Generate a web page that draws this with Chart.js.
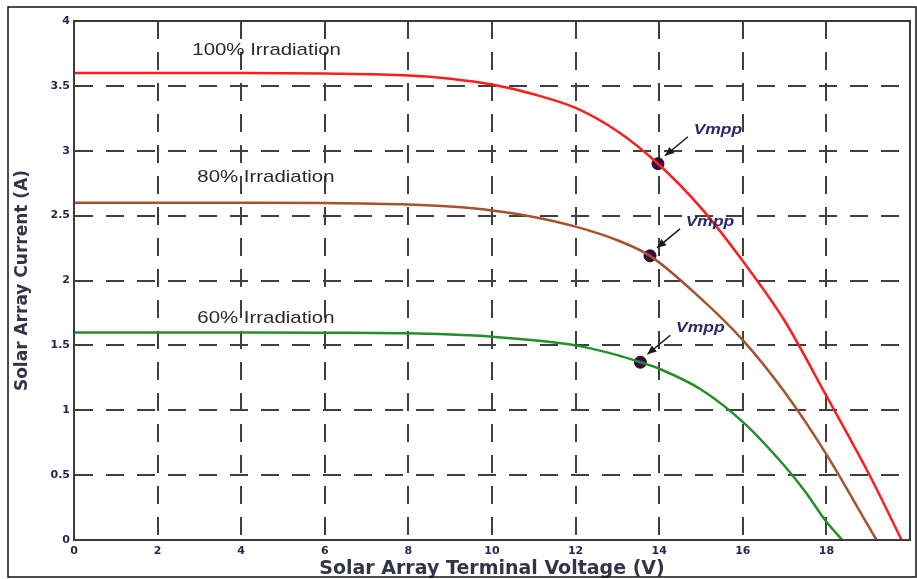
<!DOCTYPE html>
<html>
<head>
<meta charset="utf-8">
<script src="https://cdn.jsdelivr.net/npm/chart.js@4/dist/chart.umd.min.js"></script>
<style>
  html, body { margin: 0; padding: 0; background: #ffffff; }
  #wrap { width: 917px; height: 579px; }
</style>
</head>
<body>
<div id="wrap"><canvas id="iv" width="917" height="579"></canvas></div>
<script>
// I-V curves of a solar array at three irradiation levels
const voltage100 = [0, 2, 4, 6, 8, 9, 10, 11, 12, 13, 13.97, 15, 16, 17, 18, 19, 19.8];
const current100 = [3.6, 3.6, 3.6, 3.595, 3.58, 3.555, 3.51, 3.435, 3.33, 3.15, 2.90, 2.56, 2.15, 1.69, 1.11, 0.52, 0];

const voltage80 = [0, 2, 4, 6, 8, 9, 10, 11, 12, 13, 13.78, 15, 16, 17, 18, 19, 19.2];
const current80 = [2.6, 2.6, 2.6, 2.597, 2.585, 2.57, 2.54, 2.49, 2.415, 2.31, 2.19, 1.86, 1.54, 1.14, 0.66, 0.11, 0];

const voltage60 = [0, 2, 4, 6, 8, 9, 10, 11, 12, 13, 13.55, 14, 15, 16, 17, 17.5, 18, 18.38];
const current60 = [1.6, 1.6, 1.6, 1.598, 1.593, 1.583, 1.567, 1.54, 1.5, 1.425, 1.37, 1.32, 1.16, 0.91, 0.57, 0.37, 0.14, 0];

// maximum power points
const vmppVoltage = [13.97, 13.78, 13.55];
const vmppCurrent = [2.90, 2.19, 1.37];

const seriesNames = ['100% Irradiation', '80% Irradiation', '60% Irradiation'];
const xTickValues = [0, 2, 4, 6, 8, 10, 12, 14, 16, 18, 20];
const yTickValues = [0, 0.5, 1, 1.5, 2, 2.5, 3, 3.5, 4];

const toPoints = (xs, ys) => xs.map((x, i) => ({ x: x, y: ys[i] }));

const curveStyle = (color) => ({
  borderColor: color,
  backgroundColor: color,
  borderWidth: 2.5,
  pointRadius: 0,
  fill: false,
  cubicInterpolationMode: 'monotone'
});

const tickFont = { family: 'DejaVu Sans', weight: 'bold', size: 11 };
const tickColor = '#262650';

// white page, outer frame, plot box, curve captions and Vmpp markers
const decor = {
  id: 'decor',
  beforeDraw(chart) {
    const c = chart.ctx;
    c.save();
    c.fillStyle = '#ffffff';
    c.fillRect(0, 0, chart.width, chart.height);
    c.restore();
  },
  afterDatasetsDraw(chart) {
    const c = chart.ctx;
    const xs = chart.scales.x, ys = chart.scales.y;
    const a = chart.chartArea;

    // plot box
    c.save();
    c.strokeStyle = '#3a3a3a';
    c.lineWidth = 2;
    c.strokeRect(a.left, a.top, a.right - a.left, a.bottom - a.top);
    c.restore();

    // curve captions
    const captionAnchors = [[2.83, 3.776], [2.95, 2.798], [2.95, 1.711]];
    c.save();
    c.font = '17px "Liberation Sans", Arial, sans-serif';
    c.fillStyle = '#2a2a2a';
    c.textBaseline = 'middle';
    c.textAlign = 'left';
    seriesNames.forEach((name, i) => {
      const px = xs.getPixelForValue(captionAnchors[i][0]);
      const py = ys.getPixelForValue(captionAnchors[i][1]);
      c.save();
      c.translate(px, py);
      c.scale(1.2, 1);
      c.fillText(name, 0, 0);
      c.restore();
    });
    c.restore();

    // Vmpp arrows and labels
    vmppVoltage.forEach((v, i) => {
      const px = xs.getPixelForValue(v);
      const py = ys.getPixelForValue(vmppCurrent[i]);
      const tip = { x: px + 7, y: py - 8 };
      const tail = { x: px + 30, y: py - 27 };
      const ang = Math.atan2(tip.y - tail.y, tip.x - tail.x);
      c.save();
      c.strokeStyle = '#1a1a1a';
      c.fillStyle = '#1a1a1a';
      c.lineWidth = 1.5;
      c.beginPath();
      c.moveTo(tail.x, tail.y);
      c.lineTo(tip.x, tip.y);
      c.stroke();
      const hl = 9, hw = 4;
      c.beginPath();
      c.moveTo(tip.x, tip.y);
      c.lineTo(tip.x - hl * Math.cos(ang) + hw * Math.sin(ang), tip.y - hl * Math.sin(ang) - hw * Math.cos(ang));
      c.lineTo(tip.x - hl * Math.cos(ang) - hw * Math.sin(ang), tip.y - hl * Math.sin(ang) + hw * Math.cos(ang));
      c.closePath();
      c.fill();
      c.font = 'italic bold 14px "Liberation Sans", Arial, sans-serif';
      c.fillStyle = '#2a2a6a';
      c.textAlign = 'center';
      c.textBaseline = 'middle';
      c.translate(px + 60, py - 34);
      c.scale(1.25, 1);
      c.fillText('Vmpp', 0, 0);
      c.restore();
    });
  },
  afterDraw(chart) {
    const c = chart.ctx;
    c.save();
    c.strokeStyle = '#111111';
    c.lineWidth = 1.5;
    c.strokeRect(8, 7, 908, 570);
    c.restore();
  }
};

new Chart(document.getElementById('iv'), {
  type: 'line',
  data: {
    datasets: [
      Object.assign({ label: seriesNames[0], data: toPoints(voltage100, current100) }, curveStyle('#ff1c1c')),
      Object.assign({ label: seriesNames[1], data: toPoints(voltage80, current80) }, curveStyle('#a5532e')),
      Object.assign({ label: seriesNames[2], data: toPoints(voltage60, current60) }, curveStyle('#248f24')),
      {
        label: 'Vmpp',
        data: toPoints(vmppVoltage, vmppCurrent),
        showLine: false,
        pointRadius: 6,
        pointBackgroundColor: '#3d0a45',
        pointBorderColor: '#111111',
        pointBorderWidth: 1
      }
    ]
  },
  options: {
    responsive: false,
    animation: false,
    devicePixelRatio: 1,
    layout: { padding: { left: 0, top: 21, right: 3, bottom: 0 } },
    plugins: {
      legend: { display: false },
      tooltip: { enabled: false }
    },
    scales: {
      x: {
        type: 'linear',
        min: 0,
        max: 20,
        afterBuildTicks: (s) => { s.ticks = xTickValues.map(v => ({ value: v })); },
        afterFit: (s) => { s.height = 39; },
        ticks: {
          font: tickFont,
          color: tickColor,
          padding: 5,
          maxRotation: 0,
          autoSkip: false,
          callback: (v) => (v === 20 ? '' : String(v))
        },
        grid: { color: '#3f3f3f', lineWidth: 2, drawTicks: false },
        border: { display: true, color: '#3a3a3a', width: 2, dash: [18, 13] },
        title: {
          display: true,
          text: 'Solar Array Terminal Voltage (V)',
          font: { family: 'DejaVu Sans', weight: 'bold', size: 19, lineHeight: 1 },
          color: '#33334a',
          padding: { top: 0, bottom: 0 }
        }
      },
      y: {
        type: 'linear',
        min: 0,
        max: 4,
        afterBuildTicks: (s) => { s.ticks = yTickValues.map(v => ({ value: v })); },
        afterFit: (s) => { s.width = 74; },
        ticks: {
          font: tickFont,
          color: tickColor,
          padding: 4,
          autoSkip: false,
          callback: (v) => String(v)
        },
        grid: { color: '#3f3f3f', lineWidth: 2, drawTicks: false },
        border: { display: true, color: '#3a3a3a', width: 2, dash: [18, 13] },
        title: {
          display: true,
          text: 'Solar Array Current (A)',
          font: { family: 'DejaVu Sans', weight: 'bold', size: 17, lineHeight: 1.2 },
          color: '#33334a',
          padding: { top: 12, bottom: 0 }
        }
      }
    }
  },
  plugins: [decor]
});
</script>
</body>
</html>
